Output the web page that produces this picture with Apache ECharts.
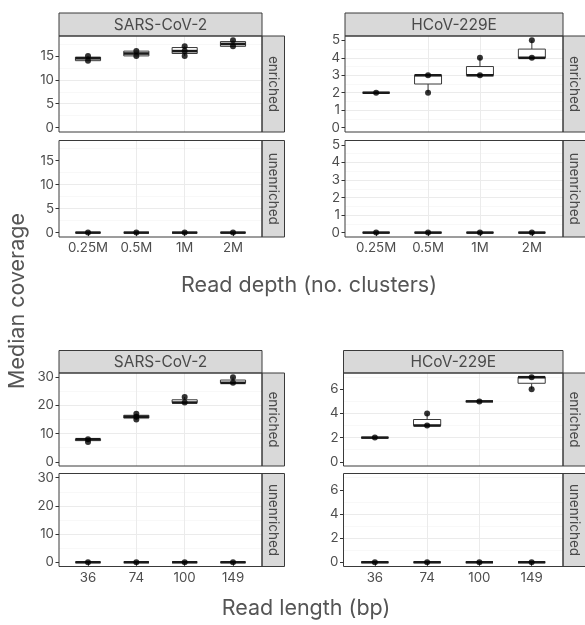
<!DOCTYPE html>
<html><head><meta charset="utf-8">
<script src="https://cdn.jsdelivr.net/npm/echarts@6/dist/echarts.min.js"></script>
<style>html,body{margin:0;padding:0;background:#fff}#c{width:585px;height:625px}</style>
</head><body><div id="c"></div>
<script>
// ---------------- data ----------------
const depthLabels = ['0.25M', '0.5M', '1M', '2M'];
const lengthLabels = ['36', '74', '100', '149'];
const viruses = ['SARS-CoV-2', 'HCoV-229E'];
const conditions = ['enriched', 'unenriched'];

// box stats per category: [min, Q1, median, Q3, max]
const sarsDepthEnrichedBox = [[14, 14, 14.5, 14.75, 15], [15, 15, 15.5, 16, 16], [15, 15.5, 16, 16.75, 17], [17, 17, 17.5, 18, 18.25]];
const sarsDepthEnrichedPts = [[14, 15], [15, 16], [15, 16, 17], [17, 18.25]];
const sarsDepthUnenrichedBox = [[0, 0, 0, 0, 0], [0, 0, 0, 0, 0], [0, 0, 0, 0, 0], [0, 0, 0, 0, 0]];
const sarsDepthUnenrichedPts = [[0], [0], [0], [0]];

const hcovDepthEnrichedBox = [[2, 2, 2, 2, 2], [2, 2.5, 3, 3, 3], [3, 3, 3, 3.5, 4], [4, 4, 4, 4.5, 5]];
const hcovDepthEnrichedPts = [[2], [2, 3], [3, 4], [4, 5]];
const hcovDepthUnenrichedBox = [[0, 0, 0, 0, 0], [0, 0, 0, 0, 0], [0, 0, 0, 0, 0], [0, 0, 0, 0, 0]];
const hcovDepthUnenrichedPts = [[0], [0], [0], [0]];

const sarsLengthEnrichedBox = [[7, 7.5, 8, 8, 8], [15, 15.5, 16, 16.5, 17], [21, 21, 21, 22, 23], [28, 28, 28, 29, 30]];
const sarsLengthEnrichedPts = [[7, 8], [15, 16, 17], [21, 23], [28, 30]];
const sarsLengthUnenrichedBox = [[0, 0, 0, 0, 0], [0, 0, 0, 0, 0], [0, 0, 0, 0, 0], [0, 0, 0, 0, 0]];
const sarsLengthUnenrichedPts = [[0], [0], [0], [0]];

const hcovLengthEnrichedBox = [[2, 2, 2, 2, 2], [3, 3, 3, 3.5, 4], [5, 5, 5, 5, 5], [6, 6.5, 7, 7, 7]];
const hcovLengthEnrichedPts = [[2], [3, 4], [5], [6, 7]];
const hcovLengthUnenrichedBox = [[0, 0, 0, 0, 0], [0, 0, 0, 0, 0], [0, 0, 0, 0, 0], [0, 0, 0, 0, 0]];
const hcovLengthUnenrichedPts = [[0], [0], [0], [0]];

// y tick labels
const sarsDepthTicks = [0, 5, 10, 15];
const hcovDepthTicks = [0, 1, 2, 3, 4, 5];
const sarsLengthTicks = [0, 10, 20, 30];
const hcovLengthTicks = [0, 2, 4, 6];
// data maxima (for ggplot-like 5% expansion)
const sarsDepthMax = 18.25, hcovDepthMax = 5, sarsLengthMax = 30, hcovLengthMax = 7;

const xTitleDepth = 'Read depth (no. clusters)';
const xTitleLength = 'Read length (bp)';
const yTitle = 'Median coverage';

// ---------------- layout ----------------
const FONT = 'Inter, "Noto Sans", sans-serif';
const TICK_FS = 13.3, STRIP_X_FS = 15.5, STRIP_Y_FS = 13.5, TITLE_FS = 21.5;
const BOX_W = 0.52;
const cols = [{ left: 59, width: 203 }, { left: 345, width: 218 }];
const colsB = [{ left: 59, width: 203 }, { left: 343.5, width: 219.5 }];
const rowsTop = [{ top: 36, height: 96 }, { top: 140.5, height: 96.5 }];
const rowsBot = [{ top: 373, height: 93 }, { top: 473.5, height: 93 }];

function exp(maxv) { const r = maxv; return [-0.05 * r, maxv + 0.05 * r]; }

const panels = [];
function addBlock(colsL, rowsL, catLabels, boxes, pts, ticks, maxes, splits) {
  for (let c = 0; c < 2; c++) {
    for (let r = 0; r < 2; r++) {
      panels.push({
        left: colsL[c].left, width: colsL[c].width, top: rowsL[r].top, height: rowsL[r].height,
        labels: catLabels, box: boxes[c][r], pts: pts[c][r], ticks: ticks[c], range: exp(maxes[c]),
        split: splits[c], showX: r === 1
      });
    }
  }
}
addBlock(cols, rowsTop, depthLabels,
  [[sarsDepthEnrichedBox, sarsDepthUnenrichedBox], [hcovDepthEnrichedBox, hcovDepthUnenrichedBox]],
  [[sarsDepthEnrichedPts, sarsDepthUnenrichedPts], [hcovDepthEnrichedPts, hcovDepthUnenrichedPts]],
  [sarsDepthTicks, hcovDepthTicks], [sarsDepthMax, hcovDepthMax], [4, 5]);
addBlock(colsB, rowsBot, lengthLabels,
  [[sarsLengthEnrichedBox, sarsLengthUnenrichedBox], [hcovLengthEnrichedBox, hcovLengthUnenrichedBox]],
  [[sarsLengthEnrichedPts, sarsLengthUnenrichedPts], [hcovLengthEnrichedPts, hcovLengthUnenrichedPts]],
  [sarsLengthTicks, hcovLengthTicks], [sarsLengthMax, hcovLengthMax], [3, 4]);

const grids = [], xAxes = [], yAxes = [], series = [], graphics = [];
const catX = [1, 2, 3, 4];

function renderBox(params, api) {
  const x = api.value(0);
  const lo = api.coord([x, api.value(1)]);
  const q1 = api.coord([x, api.value(2)]);
  const md = api.coord([x, api.value(3)]);
  const q3 = api.coord([x, api.value(4)]);
  const hi = api.coord([x, api.value(5)]);
  const w = api.size([BOX_W, 0])[0];
  const cx = lo[0];
  const stroke = '#3a3a3a';
  return {
    type: 'group', children: [
      { type: 'line', shape: { x1: cx, y1: hi[1], x2: cx, y2: q3[1] }, style: { stroke: stroke, lineWidth: 1 } },
      { type: 'line', shape: { x1: cx, y1: q1[1], x2: cx, y2: lo[1] }, style: { stroke: stroke, lineWidth: 1 } },
      { type: 'rect', shape: { x: cx - w / 2, y: q3[1], width: w, height: q1[1] - q3[1] }, style: { fill: '#fff', stroke: stroke, lineWidth: 1 } },
      { type: 'line', shape: { x1: cx - w / 2, y1: md[1], x2: cx + w / 2, y2: md[1] }, style: { stroke: '#1a1a1a', lineWidth: 2.6 } }
    ]
  };
}

panels.forEach((p, i) => {
  grids.push({ left: p.left, top: p.top, width: p.width, height: p.height, show: true, backgroundColor: '#fff', borderWidth: 0 });
  xAxes.push({
    gridIndex: i, type: 'value', min: 0.4, max: 4.6, splitNumber: 4,
    axisLine: { show: false },
    axisTick: { show: p.showX, length: 3.5, lineStyle: { color: '#333', width: 1 }, customValues: catX },
    axisLabel: { show: p.showX, customValues: catX, margin: 4.5, color: '#4d4d4d', fontSize: TICK_FS, fontFamily: FONT,
      formatter: v => (Math.abs(v - Math.round(v)) < 1e-6 && v >= 1 && v <= 4) ? p.labels[Math.round(v) - 1] : '' },
    splitLine: { show: true, showMinLine: false, showMaxLine: false, lineStyle: { color: '#ebebeb', width: 1 } }
  });
  yAxes.push({
    gridIndex: i, type: 'value', min: p.range[0], max: p.range[1], splitNumber: p.split,
    axisLine: { show: false },
    axisTick: { show: true, length: 3.5, lineStyle: { color: '#333', width: 1 }, customValues: p.ticks },
    axisLabel: { customValues: p.ticks, margin: 5, color: '#4d4d4d', fontSize: TICK_FS, fontFamily: FONT,
      formatter: v => p.ticks.some(t => Math.abs(t - v) < 1e-6) ? String(v) : '' },
    splitLine: { show: true, showMinLine: false, showMaxLine: false, lineStyle: { color: '#ebebeb', width: 1 } },
    minorTick: { show: false, splitNumber: 2 },
    minorSplitLine: { show: true, lineStyle: { color: '#f4f4f4', width: 0.6 } }
  });
  series.push({
    type: 'custom', xAxisIndex: i, yAxisIndex: i, z: 3, silent: true,
    renderItem: renderBox,
    encode: { x: 0, y: [1, 2, 3, 4, 5] },
    data: p.box.map((b, k) => [catX[k]].concat(b))
  });
  const pd = [];
  p.pts.forEach((arr, k) => arr.forEach(v => pd.push([catX[k], v])));
  series.push({
    type: 'scatter', xAxisIndex: i, yAxisIndex: i, z: 4, silent: true,
    symbolSize: 6, itemStyle: { color: '#000' }, data: pd
  });
  graphics.push({ type: 'rect', z: 50, shape: { x: p.left, y: p.top, width: p.width, height: p.height },
    style: { fill: 'none', stroke: '#3a3a3a', lineWidth: 1 } });
});

// strips
function topStrip(x, y, w, h, text) {
  graphics.push({ type: 'rect', z: 40, shape: { x: x, y: y, width: w, height: h }, style: { fill: '#d9d9d9', stroke: '#3a3a3a', lineWidth: 1 } });
  graphics.push({ type: 'text', z: 41, x: x + w / 2, y: y + h / 2 + 0.5, style: { text: text, fill: '#4a4a4a', font: STRIP_X_FS + 'px ' + FONT, align: 'center', verticalAlign: 'middle' } });
}
function sideStrip(x, y, w, h, text) {
  graphics.push({ type: 'rect', z: 40, shape: { x: x, y: y, width: w, height: h }, style: { fill: '#d9d9d9', stroke: '#3a3a3a', lineWidth: 1 } });
  graphics.push({ type: 'text', z: 41, x: x + w / 2, y: y + h / 2, rotation: -Math.PI / 2, style: { text: text, fill: '#4a4a4a', font: STRIP_Y_FS + 'px ' + FONT, align: 'center', verticalAlign: 'middle' } });
}
[cols, colsB].forEach((cl, b) => {
  const rows = b === 0 ? rowsTop : rowsBot;
  const sTop = b === 0 ? 13 : 350.5;
  cl.forEach((c, ci) => {
    topStrip(c.left, sTop, c.width, rows[0].top - sTop, viruses[ci]);
    rows.forEach((r, ri) => sideStrip(c.left + c.width, r.top, 22.5, r.height, conditions[ri]));
  });
});

// axis titles
graphics.push({ type: 'text', x: 309, y: 286, style: { text: xTitleDepth, fill: '#555', font: TITLE_FS + 'px ' + FONT, align: 'center', verticalAlign: 'middle' } });
graphics.push({ type: 'text', x: 306, y: 609, style: { text: xTitleLength, fill: '#555', font: TITLE_FS + 'px ' + FONT, align: 'center', verticalAlign: 'middle' } });
graphics.push({ type: 'text', x: 18, y: 301, rotation: Math.PI / 2, style: { text: yTitle, fill: '#555', font: TITLE_FS + 'px ' + FONT, align: 'center', verticalAlign: 'middle' } });

const chart = echarts.init(document.getElementById('c'), null, { renderer: 'canvas' });
chart.setOption({
  animation: false,
  backgroundColor: '#fff',
  grid: grids, xAxis: xAxes, yAxis: yAxes, series: series,
  graphic: { elements: graphics }
});
</script></body></html>
